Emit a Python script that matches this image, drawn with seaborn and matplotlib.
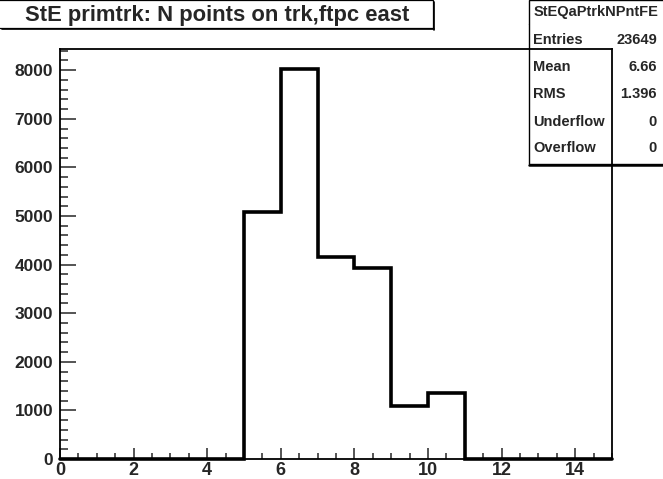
import numpy as np
import pandas as pd
import matplotlib
matplotlib.use("Agg")
import matplotlib.pyplot as plt
import seaborn as sns
from matplotlib.patches import Rectangle
from matplotlib.lines import Line2D

# ---- data ----
bin_left = list(range(15))
counts = [0, 0, 0, 0, 0, 5080, 8030, 4155, 3930, 1090, 1364, 0, 0, 0, 0]
title_text = "StE primtrk: N points on trk,ftpc east"
stats_name = "StEQaPtrkNPntFE"
stats_labels = ["Entries", "Mean", "RMS", "Underflow", "Overflow"]
stats_values = ["23649", "6.66", "1.396", "0", "0"]
x_ticks = [0, 2, 4, 6, 8, 10, 12, 14]
y_ticks = [0, 1000, 2000, 3000, 4000, 5000, 6000, 7000, 8000]

sns.set_style("ticks")
plt.rcParams['font.family'] = ['Liberation Sans', 'DejaVu Sans']
plt.rcParams['font.weight'] = 'bold'

W, H = 663, 479
fig = plt.figure(figsize=(W / 100, H / 100), dpi=100)
fig.patch.set_facecolor("white")

def fx(px):
    return px / W

def fy(py):
    return 1 - py / H

ax = fig.add_axes([fx(60), fy(459), fx(612) - fx(60), fy(49) - fy(459)])
ax.set_facecolor("none")

df = pd.DataFrame({"x": [b + 0.5 for b in bin_left], "w": counts})
sns.histplot(data=df, x="x", weights="w", binwidth=1, binrange=(0, 15), element="step",
             fill=False, color="black", linewidth=2.6, ax=ax)
for ln in ax.lines:
    ln.set_clip_on(False)
    ln.set_zorder(3)
    ln.set_solid_joinstyle("miter")
for p in ax.patches:
    p.set_clip_on(False)

ax.set_xlim(0, 15)
ax.set_ylim(0, 8436)
ax.set_xlabel("")
ax.set_ylabel("")
ax.set_xticks(x_ticks)
ax.set_xticklabels([str(t) for t in x_ticks], fontsize=13, fontweight="bold")
ax.set_yticks(y_ticks)
ax.set_yticklabels([str(t) for t in y_ticks], fontsize=12.5, fontweight="bold")
ax.set_xticks(np.arange(0, 15.01, 0.5), minor=True)
ax.set_yticks(np.arange(0, 8436, 200), minor=True)
ax.tick_params(axis="x", which="major", direction="in", length=8, width=1.1, pad=2,
               top=False)
ax.tick_params(axis="x", which="minor", direction="in", length=4, width=1.1, top=False)
ax.tick_params(axis="y", which="major", direction="in", length=11.5, width=1.1, pad=5,
               right=False)
ax.tick_params(axis="y", which="minor", direction="in", length=5.8, width=1.1, right=False)
for s in ax.spines.values():
    s.set_visible(True)
    s.set_linewidth(1.3)
    s.set_color("black")

# ---- title box ----
fig.patches.append(Rectangle((fx(-2), fy(28)), fx(433) - fx(-2), fy(0) - fy(28),
                             transform=fig.transFigure, facecolor="white",
                             edgecolor="black", linewidth=0.9, zorder=-1))
fig.lines.append(Line2D([fx(433.5), fx(433.5)], [fy(2), fy(29.5)], transform=fig.transFigure,
                        color="black", linewidth=1.2, zorder=-1))
fig.lines.append(Line2D([fx(2), fx(433.5)], [fy(29), fy(29)], transform=fig.transFigure,
                        color="black", linewidth=1.2, zorder=-1))
fig.text(fx(217), fy(15), title_text, ha="center", va="center", fontsize=15.8,
         fontweight="bold", zorder=5)

# ---- stats box ----
fig.patches.append(Rectangle((fx(529), fy(164)), fx(665) - fx(529), fy(0) - fy(164),
                             transform=fig.transFigure, facecolor="white",
                             edgecolor="black", linewidth=1.0, zorder=-1))
fig.lines.append(Line2D([fx(529), fx(663)], [fy(165), fy(165)], transform=fig.transFigure,
                        color="black", linewidth=1.8, zorder=-1))
fig.lines.append(Line2D([fx(529), fx(663)], [fy(24), fy(24)], transform=fig.transFigure,
                        color="black", linewidth=1.0, zorder=-1))
fig.text(fx(596), fy(12), stats_name, ha="center", va="center", fontsize=10.5,
         fontweight="bold")
rows_y = [40, 67, 94, 122, 148]
for lab, val, ry in zip(stats_labels, stats_values, rows_y):
    fig.text(fx(533), fy(ry), lab, ha="left", va="center", fontsize=10.5, fontweight="bold")
    fig.text(fx(657), fy(ry), val, ha="right", va="center", fontsize=10.5, fontweight="bold")

fig.savefig("out.png", dpi=100, facecolor="white")
